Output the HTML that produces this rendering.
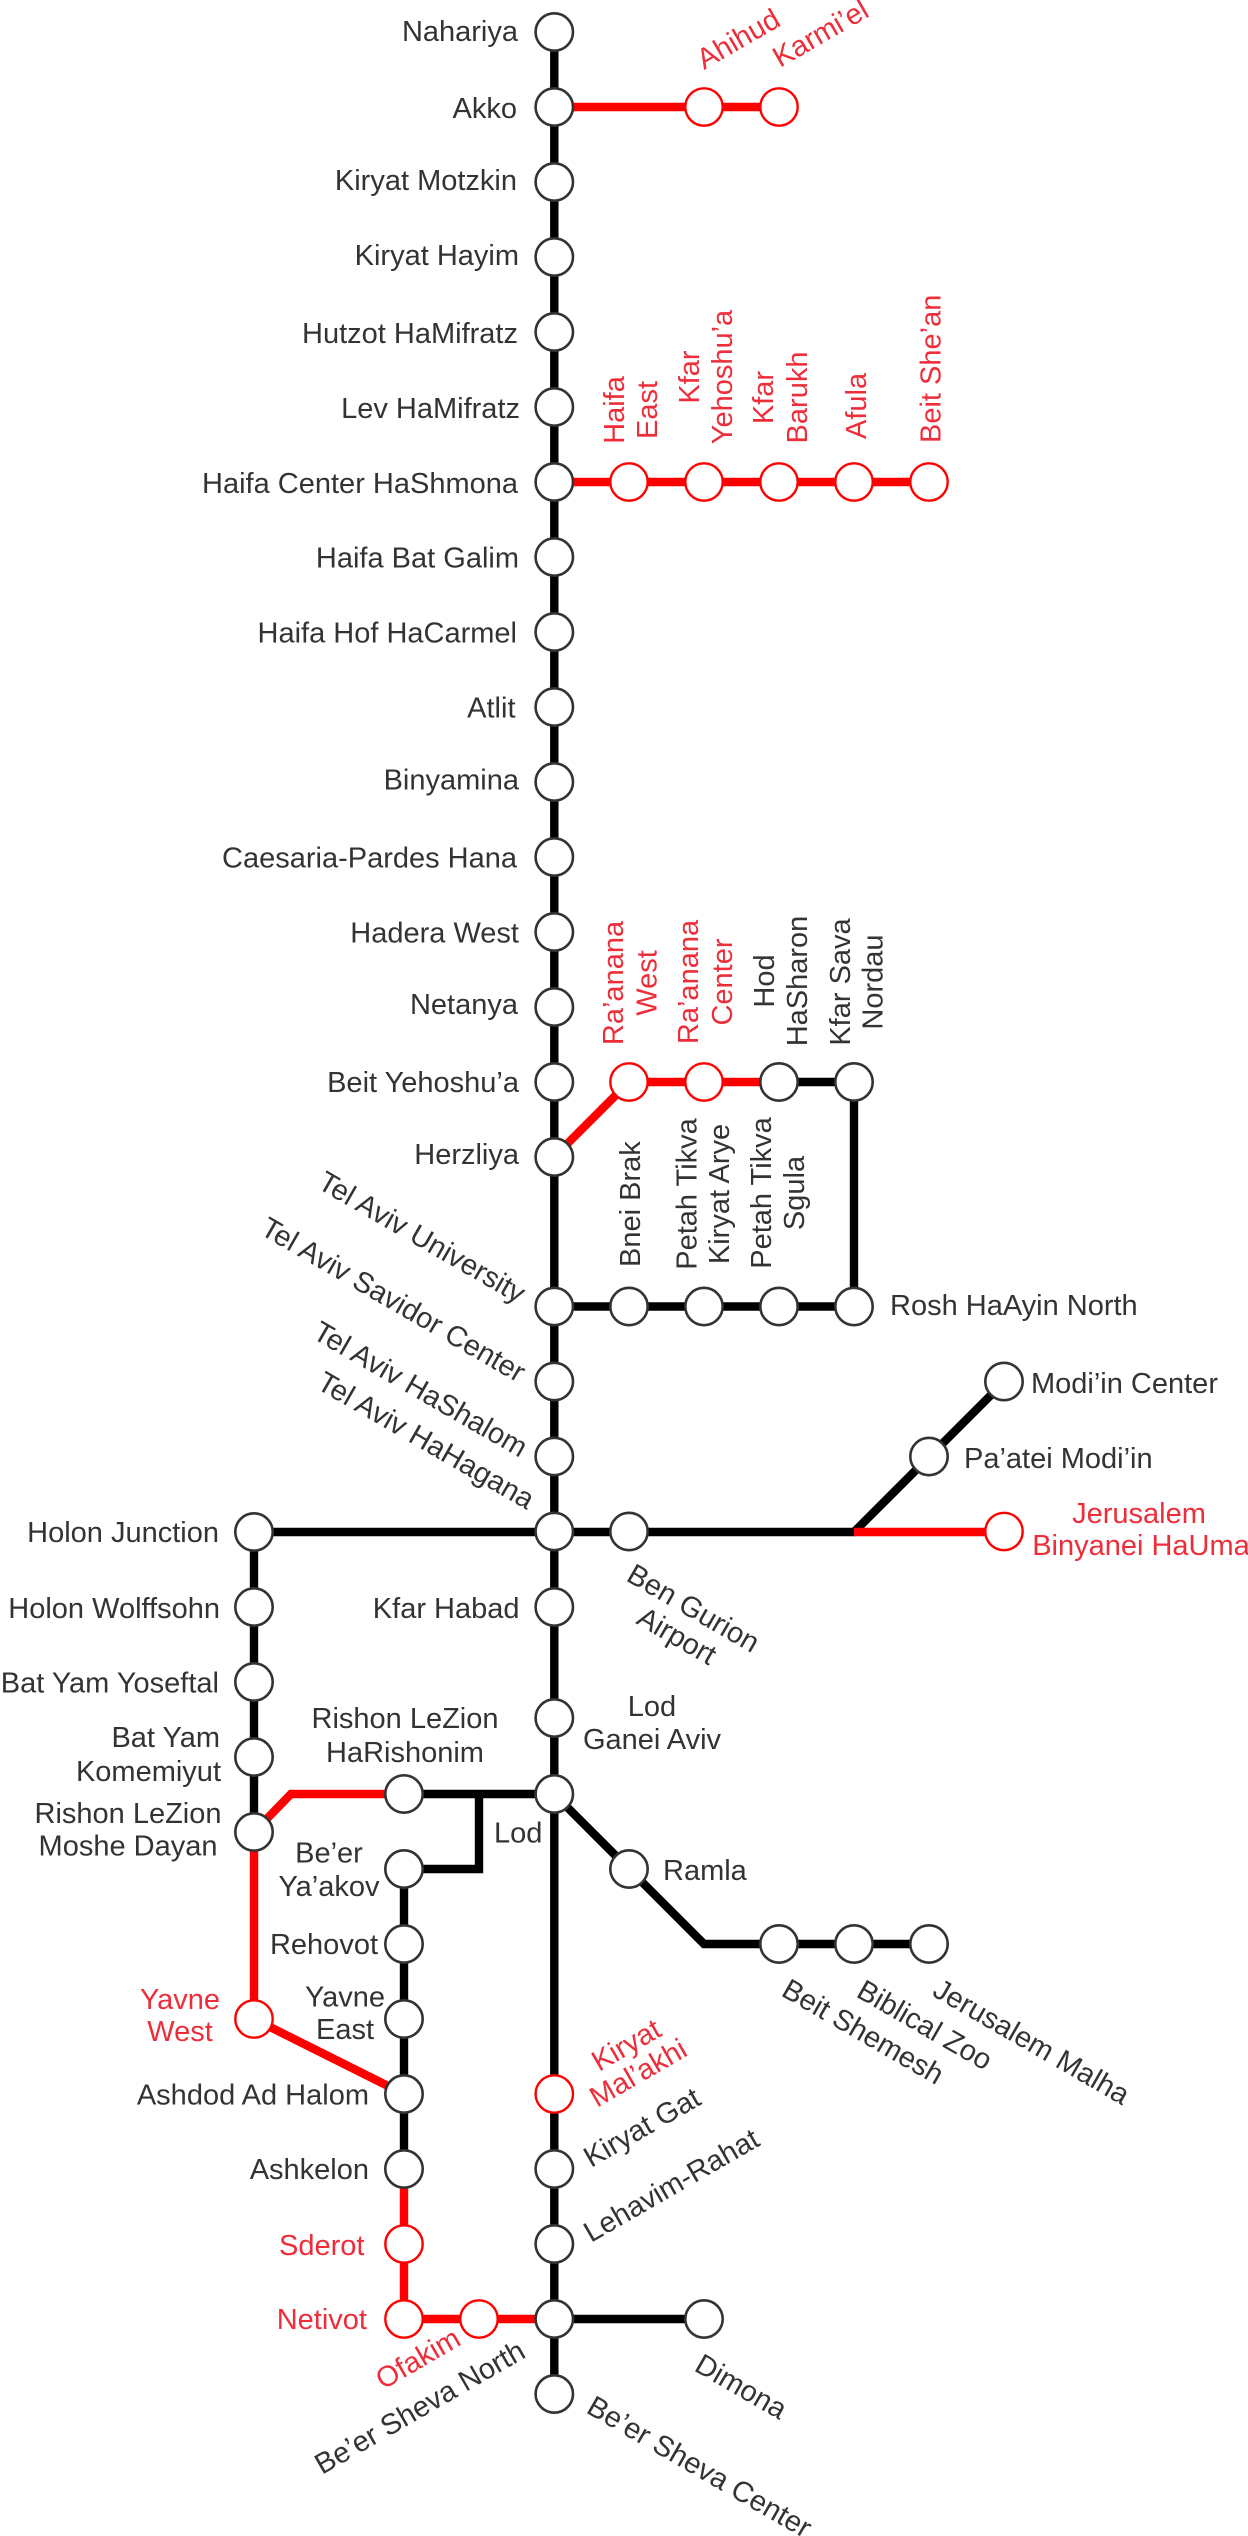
<!DOCTYPE html>
<html><head><meta charset="utf-8"><style>
html,body{margin:0;padding:0;background:#fff;width:1248px;height:2536px;overflow:hidden}
svg{display:block}
text{font-family:"Liberation Sans",Arial,sans-serif;font-size:29px;fill:#333}
.r text,text.r{fill:#ed2e3a}
.e{text-anchor:end}.m{text-anchor:middle}
.k{fill:none;stroke:#000;stroke-width:8.4}
.d{fill:none;stroke:#f00;stroke-width:8.4}
.c circle{fill:#fff;stroke:#333;stroke-width:2.6;r:18.7px}
.c circle.h{stroke:#f00;stroke-width:2.4}
</style></head><body>
<svg width="1248" height="2536" viewBox="0 0 1248 2536" xmlns="http://www.w3.org/2000/svg">
<path class="k" d="M554.3 32V2394M254 1532H854L1004 1382M254 1532V1832M404 1794H554M479 1794V1869H404M404 1869V2169M554 1794L704 1944H929M554 1306.5H854V1082H779M554 2319H704"/>
<path class="d" d="M554 107H779M554 482H929M554 1157L629 1082H779M854 1532H1004M254 1832V2019L404 2094M254 1832L291 1794H404M404 2169V2319H554"/>
<g class="c">
<circle cx="554.3" cy="32" r="18.7"/><circle cx="554.3" cy="107" r="18.7"/><circle cx="554.3" cy="182" r="18.7"/><circle cx="554.3" cy="257" r="18.7"/><circle cx="554.3" cy="332" r="18.7"/><circle cx="554.3" cy="407" r="18.7"/><circle cx="554.3" cy="482" r="18.7"/><circle cx="554.3" cy="557" r="18.7"/><circle cx="554.3" cy="632" r="18.7"/><circle cx="554.3" cy="707" r="18.7"/><circle cx="554.3" cy="782" r="18.7"/><circle cx="554.3" cy="857" r="18.7"/><circle cx="554.3" cy="932" r="18.7"/><circle cx="554.3" cy="1007" r="18.7"/><circle cx="554.3" cy="1082" r="18.7"/><circle cx="554.3" cy="1157" r="18.7"/><circle cx="554.3" cy="1306.5" r="18.7"/><circle cx="554.3" cy="1381.5" r="18.7"/><circle cx="554.3" cy="1456.5" r="18.7"/><circle cx="554.3" cy="1531.5" r="18.7"/><circle cx="554.3" cy="1607" r="18.7"/><circle cx="554.3" cy="1718" r="18.7"/><circle cx="554.3" cy="1794" r="18.7"/><circle cx="554.3" cy="2169" r="18.7"/><circle cx="554.3" cy="2244" r="18.7"/><circle cx="554.3" cy="2319" r="18.7"/><circle cx="554.3" cy="2394" r="18.7"/>
<circle class="h" cx="554.3" cy="2094" r="18.7"/>
<circle class="h" cx="704" cy="107" r="18.7"/><circle class="h" cx="779" cy="107" r="18.7"/>
<circle class="h" cx="629" cy="482" r="18.7"/><circle class="h" cx="704" cy="482" r="18.7"/><circle class="h" cx="779" cy="482" r="18.7"/><circle class="h" cx="854" cy="482" r="18.7"/><circle class="h" cx="929" cy="482" r="18.7"/>
<circle class="h" cx="629" cy="1082" r="18.7"/><circle class="h" cx="704" cy="1082" r="18.7"/><circle cx="779" cy="1082" r="18.7"/><circle cx="854" cy="1082" r="18.7"/>
<circle cx="629" cy="1306.5" r="18.7"/><circle cx="704" cy="1306.5" r="18.7"/><circle cx="779" cy="1306.5" r="18.7"/><circle cx="854" cy="1306.5" r="18.7"/>
<circle cx="1004" cy="1381.5" r="18.7"/><circle cx="929" cy="1456.5" r="18.7"/><circle class="h" cx="1004" cy="1531.5" r="18.7"/><circle cx="629" cy="1531.5" r="18.7"/>
<circle cx="254" cy="1532" r="18.7"/><circle cx="254" cy="1607" r="18.7"/><circle cx="254" cy="1682" r="18.7"/><circle cx="254" cy="1757" r="18.7"/><circle cx="254" cy="1832" r="18.7"/><circle class="h" cx="254" cy="2019" r="18.7"/>
<circle cx="404" cy="1794" r="18.7"/><circle cx="404" cy="1869" r="18.7"/><circle cx="404" cy="1944" r="18.7"/><circle cx="404" cy="2019" r="18.7"/><circle cx="404" cy="2094" r="18.7"/><circle cx="404" cy="2169" r="18.7"/>
<circle class="h" cx="404" cy="2244" r="18.7"/><circle class="h" cx="404" cy="2319" r="18.7"/><circle class="h" cx="479" cy="2319" r="18.7"/><circle cx="704" cy="2319" r="18.7"/>
<circle cx="629" cy="1869" r="18.7"/><circle cx="779" cy="1944" r="18.7"/><circle cx="854" cy="1944" r="18.7"/><circle cx="929" cy="1944" r="18.7"/>
</g>
<g class="e">
<text x="518" y="41">Nahariya</text><text x="517" y="118">Akko</text><text x="517" y="190">Kiryat Motzkin</text><text x="519" y="265">Kiryat Hayim</text><text x="518" y="343">Hutzot HaMifratz</text><text x="520" y="418">Lev HaMifratz</text><text x="518" y="493">Haifa Center HaShmona</text>
<text x="519" y="567.5">Haifa Bat Galim</text><text x="517" y="642.5">Haifa Hof HaCarmel</text><text x="515.5" y="717.5">Atlit</text><text x="519" y="789.5">Binyamina</text><text x="517" y="867.5">Caesaria-Pardes Hana</text><text x="519" y="942.5">Hadera West</text><text x="518" y="1014">Netanya</text><text x="519" y="1092">Beit Yehoshu’a</text><text x="519" y="1164">Herzliya</text>
<text x="219" y="1542">Holon Junction</text><text x="220" y="1618">Holon Wolffsohn</text><text x="219" y="1692.5">Bat Yam Yoseftal</text><text x="220" y="1747">Bat Yam</text><text x="221" y="1781">Komemiyut</text>
<text x="519.5" y="1618">Kfar Habad</text><text x="378" y="1954">Rehovot</text><text x="369" y="2104.5">Ashdod Ad Halom</text><text x="369" y="2179">Ashkelon</text>
<text class="r" x="364.5" y="2255">Sderot</text><text class="r" x="367" y="2329">Netivot</text>
</g>
<g class="m">
<text x="128" y="1823">Rishon LeZion</text><text x="128" y="1855.5">Moshe Dayan</text>
<text x="405" y="1728">Rishon LeZion</text><text x="405" y="1762">HaRishonim</text>
<text x="329" y="1862.5">Be’er</text><text x="329" y="1896">Ya’akov</text>
<text x="345" y="2006.5">Yavne</text><text x="345" y="2039">East</text>
<text class="r" x="180" y="2009">Yavne</text><text class="r" x="180" y="2041">West</text>
<text x="652" y="1716">Lod</text><text x="652" y="1749">Ganei Aviv</text>
<text class="r" x="1139" y="1523">Jerusalem</text><text class="r" x="1141" y="1555">Binyanei HaUma</text>
</g>
<text x="494" y="1842.5">Lod</text>
<text x="890" y="1315">Rosh HaAyin North</text><text x="1031" y="1393">Modi’in Center</text><text x="964" y="1468">Pa’atei Modi’in</text><text x="663" y="1880">Ramla</text>
<!-- vertical -->
<g class="m r">
<text transform="translate(624,410) rotate(-90)">Haifa</text><text transform="translate(657,410) rotate(-90)">East</text>
<text transform="translate(699,377) rotate(-90)">Kfar</text><text transform="translate(732,377) rotate(-90)">Yehoshu’a</text>
<text transform="translate(773,397.5) rotate(-90)">Kfar</text><text transform="translate(807,397.5) rotate(-90)">Barukh</text>
<text transform="translate(623,983) rotate(-90)">Ra’anana</text><text transform="translate(656.5,983) rotate(-90)">West</text>
<text transform="translate(698,982) rotate(-90)">Ra’anana</text><text transform="translate(732,982) rotate(-90)">Center</text>
</g>
<text class="r" transform="translate(866,439) rotate(-90)">Afula</text>
<text class="r" transform="translate(940.5,443) rotate(-90)">Beit She’an</text>
<g class="m">
<text transform="translate(774,981) rotate(-90)">Hod</text><text transform="translate(807,981) rotate(-90)">HaSharon</text>
<text transform="translate(850,982) rotate(-90)">Kfar Sava</text><text transform="translate(882.5,982) rotate(-90)">Nordau</text>
<text transform="translate(696.5,1194) rotate(-90)">Petah Tikva</text><text transform="translate(729,1194) rotate(-90)">Kiryat Arye</text>
<text transform="translate(771,1193) rotate(-90)">Petah Tikva</text><text transform="translate(804,1193) rotate(-90)">Sgula</text>
</g>
<text transform="translate(640,1267) rotate(-90)">Bnei Brak</text>
<!-- diagonal -->
<text class="r" transform="translate(704,70) rotate(-30)">Ahihud</text>
<text class="r" transform="translate(780,68) rotate(-30)">Karmi’el</text>
<g class="e">
<text transform="translate(518,1304) rotate(30)">Tel Aviv University</text>
<text transform="translate(518,1383) rotate(30)">Tel Aviv Savidor Center</text>
<text transform="translate(520,1458) rotate(30)">Tel Aviv HaShalom</text>
<text transform="translate(527,1510) rotate(30)">Tel Aviv HaHagana</text>
</g>
<text transform="translate(625,1580) rotate(30)">Ben Gurion</text>
<text transform="translate(635,1623) rotate(30)">Airport</text>
<text transform="translate(780,1995) rotate(30)">Beit Shemesh</text>
<text transform="translate(855,1996) rotate(30)">Biblical Zoo</text>
<text transform="translate(931,1995) rotate(30)">Jerusalem Malha</text>
<text class="r" transform="translate(599,2072) rotate(-30)">Kiryat</text>
<text class="r" transform="translate(597,2108) rotate(-30)">Mal’akhi</text>
<text transform="translate(591,2168) rotate(-30)">Kiryat Gat</text>
<text transform="translate(591,2243) rotate(-30)">Lehavim-Rahat</text>
<text class="r" transform="translate(383,2390) rotate(-30)">Ofakim</text>
<text transform="translate(322,2475) rotate(-30)">Be’er Sheva North</text>
<text transform="translate(585,2412) rotate(30)">Be’er Sheva Center</text>
<text transform="translate(693,2370) rotate(30)">Dimona</text>
</svg>
</body></html>
